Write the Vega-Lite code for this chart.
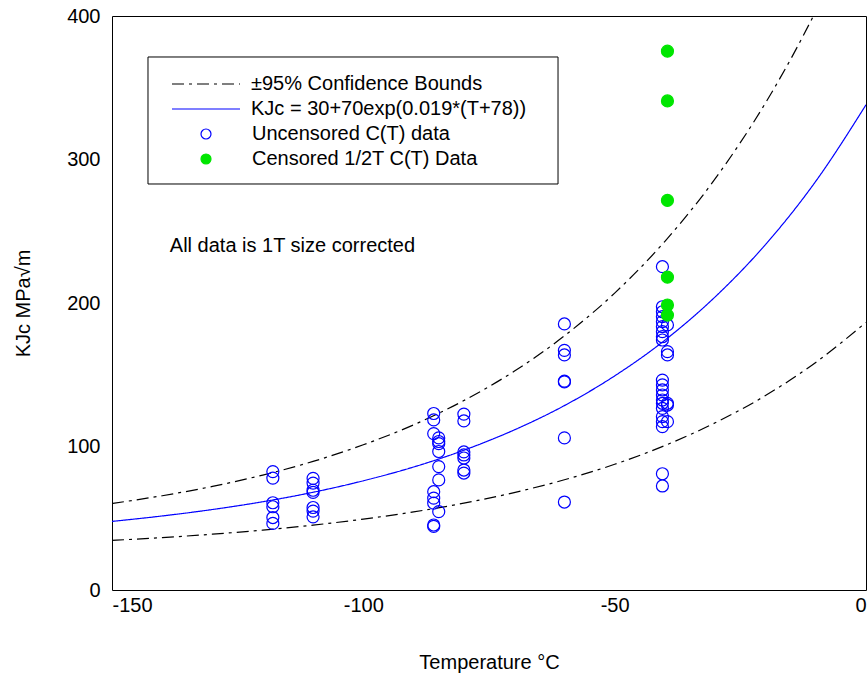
{
  "$schema": "https://vega.github.io/schema/vega-lite/v6.json",
  "width": 754,
  "height": 574,
  "autosize": {"type": "none"},
  "padding": {"left": 112, "top": 16, "right": 1, "bottom": 86},
  "background": "white",
  "config": {
    "font": "Liberation Sans",
    "view": {"stroke": "black", "strokeWidth": 1},
    "axis": {
      "labelFont": "Liberation Sans",
      "labelFontSize": 20,
      "labelColor": "black",
      "titleFont": "Liberation Sans",
      "titleFontSize": 20,
      "titleFontWeight": "normal",
      "titleColor": "black",
      "domain": false,
      "grid": false,
      "ticks": false
    }
  },
  "datasets": {
    "bounds": [
      {"T": -150, "K": 60.3, "curve": "upper", "series": "±95% Confidence Bounds"},
      {"T": -140, "K": 65.7, "curve": "upper", "series": "±95% Confidence Bounds"},
      {"T": -130, "K": 72.2, "curve": "upper", "series": "±95% Confidence Bounds"},
      {"T": -120, "K": 80.1, "curve": "upper", "series": "±95% Confidence Bounds"},
      {"T": -110, "K": 89.6, "curve": "upper", "series": "±95% Confidence Bounds"},
      {"T": -100, "K": 101.2, "curve": "upper", "series": "±95% Confidence Bounds"},
      {"T": -90, "K": 115.1, "curve": "upper", "series": "±95% Confidence Bounds"},
      {"T": -80, "K": 132.0, "curve": "upper", "series": "±95% Confidence Bounds"},
      {"T": -70, "K": 152.4, "curve": "upper", "series": "±95% Confidence Bounds"},
      {"T": -60, "K": 177.1, "curve": "upper", "series": "±95% Confidence Bounds"},
      {"T": -50, "K": 206.9, "curve": "upper", "series": "±95% Confidence Bounds"},
      {"T": -40, "K": 243.0, "curve": "upper", "series": "±95% Confidence Bounds"},
      {"T": -30, "K": 286.6, "curve": "upper", "series": "±95% Confidence Bounds"},
      {"T": -20, "K": 339.4, "curve": "upper", "series": "±95% Confidence Bounds"},
      {"T": -15, "K": 369.8, "curve": "upper", "series": "±95% Confidence Bounds"},
      {"T": -10, "K": 403.2, "curve": "upper", "series": "±95% Confidence Bounds"},
      {"T": -150, "K": 34.6, "curve": "lower", "series": "±95% Confidence Bounds"},
      {"T": -140, "K": 36.5, "curve": "lower", "series": "±95% Confidence Bounds"},
      {"T": -130, "K": 38.9, "curve": "lower", "series": "±95% Confidence Bounds"},
      {"T": -120, "K": 41.7, "curve": "lower", "series": "±95% Confidence Bounds"},
      {"T": -110, "K": 45.2, "curve": "lower", "series": "±95% Confidence Bounds"},
      {"T": -100, "K": 49.4, "curve": "lower", "series": "±95% Confidence Bounds"},
      {"T": -90, "K": 54.4, "curve": "lower", "series": "±95% Confidence Bounds"},
      {"T": -80, "K": 60.5, "curve": "lower", "series": "±95% Confidence Bounds"},
      {"T": -70, "K": 67.9, "curve": "lower", "series": "±95% Confidence Bounds"},
      {"T": -60, "K": 76.8, "curve": "lower", "series": "±95% Confidence Bounds"},
      {"T": -50, "K": 87.6, "curve": "lower", "series": "±95% Confidence Bounds"},
      {"T": -40, "K": 100.7, "curve": "lower", "series": "±95% Confidence Bounds"},
      {"T": -30, "K": 116.5, "curve": "lower", "series": "±95% Confidence Bounds"},
      {"T": -20, "K": 135.5, "curve": "lower", "series": "±95% Confidence Bounds"},
      {"T": -10, "K": 158.6, "curve": "lower", "series": "±95% Confidence Bounds"},
      {"T": 0, "K": 186.5, "curve": "lower", "series": "±95% Confidence Bounds"}
    ],
    "median": [
      {"T": -150, "K": 47.8, "series": "KJc = 30+70exp(0.019*(T+78))"},
      {"T": -140, "K": 51.6, "series": "KJc = 30+70exp(0.019*(T+78))"},
      {"T": -130, "K": 56.1, "series": "KJc = 30+70exp(0.019*(T+78))"},
      {"T": -120, "K": 61.5, "series": "KJc = 30+70exp(0.019*(T+78))"},
      {"T": -110, "K": 68.1, "series": "KJc = 30+70exp(0.019*(T+78))"},
      {"T": -100, "K": 76.1, "series": "KJc = 30+70exp(0.019*(T+78))"},
      {"T": -90, "K": 85.7, "series": "KJc = 30+70exp(0.019*(T+78))"},
      {"T": -80, "K": 97.4, "series": "KJc = 30+70exp(0.019*(T+78))"},
      {"T": -70, "K": 111.5, "series": "KJc = 30+70exp(0.019*(T+78))"},
      {"T": -60, "K": 128.5, "series": "KJc = 30+70exp(0.019*(T+78))"},
      {"T": -50, "K": 149.2, "series": "KJc = 30+70exp(0.019*(T+78))"},
      {"T": -40, "K": 174.1, "series": "KJc = 30+70exp(0.019*(T+78))"},
      {"T": -30, "K": 204.3, "series": "KJc = 30+70exp(0.019*(T+78))"},
      {"T": -20, "K": 240.7, "series": "KJc = 30+70exp(0.019*(T+78))"},
      {"T": -10, "K": 284.8, "series": "KJc = 30+70exp(0.019*(T+78))"},
      {"T": 0, "K": 338.1, "series": "KJc = 30+70exp(0.019*(T+78))"}
    ],
    "points": [
      {"T": -118, "K": 82.5, "series": "Uncensored C(T) data"},
      {"T": -118, "K": 78, "series": "Uncensored C(T) data"},
      {"T": -118, "K": 60.8, "series": "Uncensored C(T) data"},
      {"T": -118, "K": 58, "series": "Uncensored C(T) data"},
      {"T": -118, "K": 50.5, "series": "Uncensored C(T) data"},
      {"T": -118, "K": 46.4, "series": "Uncensored C(T) data"},
      {"T": -110, "K": 77.8, "series": "Uncensored C(T) data"},
      {"T": -110, "K": 74.5, "series": "Uncensored C(T) data"},
      {"T": -110, "K": 69.5, "series": "Uncensored C(T) data"},
      {"T": -110, "K": 68, "series": "Uncensored C(T) data"},
      {"T": -110, "K": 57.5, "series": "Uncensored C(T) data"},
      {"T": -110, "K": 55, "series": "Uncensored C(T) data"},
      {"T": -110, "K": 51, "series": "Uncensored C(T) data"},
      {"T": -86, "K": 123, "series": "Uncensored C(T) data"},
      {"T": -86, "K": 118.5, "series": "Uncensored C(T) data"},
      {"T": -86, "K": 109, "series": "Uncensored C(T) data"},
      {"T": -86, "K": 68.5, "series": "Uncensored C(T) data"},
      {"T": -86, "K": 64, "series": "Uncensored C(T) data"},
      {"T": -86, "K": 60.5, "series": "Uncensored C(T) data"},
      {"T": -86, "K": 45.3, "series": "Uncensored C(T) data"},
      {"T": -86, "K": 44.3, "series": "Uncensored C(T) data"},
      {"T": -85, "K": 106, "series": "Uncensored C(T) data"},
      {"T": -85, "K": 103.5, "series": "Uncensored C(T) data"},
      {"T": -85, "K": 102, "series": "Uncensored C(T) data"},
      {"T": -85, "K": 96.5, "series": "Uncensored C(T) data"},
      {"T": -85, "K": 86, "series": "Uncensored C(T) data"},
      {"T": -85, "K": 76.7, "series": "Uncensored C(T) data"},
      {"T": -85, "K": 54.6, "series": "Uncensored C(T) data"},
      {"T": -80, "K": 122.6, "series": "Uncensored C(T) data"},
      {"T": -80, "K": 117.8, "series": "Uncensored C(T) data"},
      {"T": -80, "K": 96.2, "series": "Uncensored C(T) data"},
      {"T": -80, "K": 94.1, "series": "Uncensored C(T) data"},
      {"T": -80, "K": 92, "series": "Uncensored C(T) data"},
      {"T": -80, "K": 83.6, "series": "Uncensored C(T) data"},
      {"T": -80, "K": 81.5, "series": "Uncensored C(T) data"},
      {"T": -60, "K": 185.4, "series": "Uncensored C(T) data"},
      {"T": -60, "K": 167, "series": "Uncensored C(T) data"},
      {"T": -60, "K": 163.8, "series": "Uncensored C(T) data"},
      {"T": -60, "K": 145, "series": "Uncensored C(T) data"},
      {"T": -60, "K": 145.5, "series": "Uncensored C(T) data"},
      {"T": -60, "K": 106, "series": "Uncensored C(T) data"},
      {"T": -60, "K": 61.3, "series": "Uncensored C(T) data"},
      {"T": -40.5, "K": 225.3, "series": "Uncensored C(T) data"},
      {"T": -40.5, "K": 197.4, "series": "Uncensored C(T) data"},
      {"T": -40.5, "K": 193.9, "series": "Uncensored C(T) data"},
      {"T": -40.5, "K": 190.5, "series": "Uncensored C(T) data"},
      {"T": -40.5, "K": 187, "series": "Uncensored C(T) data"},
      {"T": -40.5, "K": 183.5, "series": "Uncensored C(T) data"},
      {"T": -40.5, "K": 180, "series": "Uncensored C(T) data"},
      {"T": -40.5, "K": 176.5, "series": "Uncensored C(T) data"},
      {"T": -40.5, "K": 174.2, "series": "Uncensored C(T) data"},
      {"T": -40.5, "K": 146.3, "series": "Uncensored C(T) data"},
      {"T": -40.5, "K": 142.9, "series": "Uncensored C(T) data"},
      {"T": -40.5, "K": 139.4, "series": "Uncensored C(T) data"},
      {"T": -40.5, "K": 135.9, "series": "Uncensored C(T) data"},
      {"T": -40.5, "K": 132.4, "series": "Uncensored C(T) data"},
      {"T": -40.5, "K": 130.1, "series": "Uncensored C(T) data"},
      {"T": -40.5, "K": 126.6, "series": "Uncensored C(T) data"},
      {"T": -40.5, "K": 120.8, "series": "Uncensored C(T) data"},
      {"T": -40.5, "K": 117.3, "series": "Uncensored C(T) data"},
      {"T": -40.5, "K": 113.8, "series": "Uncensored C(T) data"},
      {"T": -40.5, "K": 81, "series": "Uncensored C(T) data"},
      {"T": -40.5, "K": 72.5, "series": "Uncensored C(T) data"},
      {"T": -39.5, "K": 184.7, "series": "Uncensored C(T) data"},
      {"T": -39.5, "K": 166.1, "series": "Uncensored C(T) data"},
      {"T": -39.5, "K": 163.8, "series": "Uncensored C(T) data"},
      {"T": -39.5, "K": 130.1, "series": "Uncensored C(T) data"},
      {"T": -39.5, "K": 128.9, "series": "Uncensored C(T) data"},
      {"T": -39.5, "K": 117.3, "series": "Uncensored C(T) data"},
      {"T": -39.5, "K": 375.5, "series": "Censored 1/2T C(T) Data"},
      {"T": -39.5, "K": 340.8, "series": "Censored 1/2T C(T) Data"},
      {"T": -39.5, "K": 271.5, "series": "Censored 1/2T C(T) Data"},
      {"T": -39.5, "K": 218, "series": "Censored 1/2T C(T) Data"},
      {"T": -39.5, "K": 198.6, "series": "Censored 1/2T C(T) Data"},
      {"T": -39.5, "K": 191.6, "series": "Censored 1/2T C(T) Data"}
    ],
    "note": [
      {"note": "All data is 1T size corrected"}
    ]
  },
  "layer": [
    {
      "data": {"name": "note"},
      "mark": {"type": "rect", "fill": "white", "stroke": "black", "strokeWidth": 1},
      "encoding": {
        "x": {"datum": -142.84, "type": "quantitative"},
        "x2": {"datum": -61.27},
        "y": {"datum": 371.43, "type": "quantitative"},
        "y2": {"datum": 282.93}
      }
    },
    {
      "data": {"name": "bounds"},
      "mark": {"type": "line", "clip": true, "strokeWidth": 1.2, "interpolate": "monotone"},
      "encoding": {
        "x": {"field": "T", "type": "quantitative", "scale": {"domain": [-150, 0], "nice": false, "zero": false},
              "axis": {"values": [-150, -100, -50, 0], "labelExpr": "replace(datum.label, '−', '-')", "labelPadding": 5, "title": "Temperature  °C", "titlePadding": 37}},
        "y": {"field": "K", "type": "quantitative", "scale": {"domain": [0, 400], "nice": false},
              "axis": {"values": [0, 100, 200, 300, 400], "labelPadding": 12, "title": "KJc  MPa√m", "titlePadding": 33}},
        "detail": {"field": "curve", "type": "nominal"},
        "color": {
          "field": "series", "type": "nominal",
          "scale": {"domain": ["±95% Confidence Bounds", "KJc = 30+70exp(0.019*(T+78))"], "range": ["#000000", "#0000ff"]},
          "legend": {
            "orient": "none", "legendX": 60, "legendY": 58, "title": null, "padding": 0,
            "symbolType": "stroke", "symbolSize": 4624, "symbolStrokeWidth": 1.2, "symbolOffset": -1,
            "labelOffset": 10, "labelFont": "Liberation Sans", "labelFontSize": 20, "labelColor": "black", "labelLimit": 0,
            "rowPadding": 5, "clipHeight": 20
          }
        },
        "strokeDash": {
          "field": "series", "type": "nominal",
          "scale": {"domain": ["±95% Confidence Bounds", "KJc = 30+70exp(0.019*(T+78))"], "range": [[12, 5, 3, 5], [1, 0]]},
          "legend": {
            "orient": "none", "legendX": 60, "legendY": 58, "title": null, "padding": 0,
            "symbolType": "stroke", "symbolSize": 4624, "symbolStrokeWidth": 1.2, "symbolOffset": -1,
            "labelOffset": 10, "labelFont": "Liberation Sans", "labelFontSize": 20, "labelColor": "black", "labelLimit": 0,
            "rowPadding": 5, "clipHeight": 20
          }
        }
      }
    },
    {
      "data": {"name": "median"},
      "mark": {"type": "line", "clip": true, "strokeWidth": 1.2, "interpolate": "monotone"},
      "encoding": {
        "x": {"field": "T", "type": "quantitative"},
        "y": {"field": "K", "type": "quantitative"},
        "color": {"field": "series", "type": "nominal"},
        "strokeDash": {"field": "series", "type": "nominal"}
      }
    },
    {
      "data": {"name": "points"},
      "mark": {"type": "point", "shape": "circle", "filled": true, "size": 144, "strokeWidth": 1.2, "opacity": 1},
      "encoding": {
        "x": {"field": "T", "type": "quantitative"},
        "y": {"field": "K", "type": "quantitative"},
        "fill": {
          "field": "series", "type": "nominal",
          "scale": {"domain": ["Uncensored C(T) data", "Censored 1/2T C(T) Data"], "range": ["transparent", "#00e600"]},
          "legend": {
            "orient": "none", "legendX": 60, "legendY": 108, "title": null, "padding": 0,
            "symbolType": "circle", "symbolSize": 100, "symbolStrokeWidth": 1.2, "symbolOffset": 24,
            "labelOffset": 36, "labelFont": "Liberation Sans", "labelFontSize": 20, "labelColor": "black", "labelLimit": 0,
            "rowPadding": 5, "clipHeight": 20
          }
        },
        "stroke": {
          "field": "series", "type": "nominal",
          "scale": {"domain": ["Uncensored C(T) data", "Censored 1/2T C(T) Data"], "range": ["#0000ff", "#00e600"]},
          "legend": {
            "orient": "none", "legendX": 60, "legendY": 108, "title": null, "padding": 0,
            "symbolType": "circle", "symbolSize": 100, "symbolStrokeWidth": 1.2, "symbolOffset": 24,
            "labelOffset": 36, "labelFont": "Liberation Sans", "labelFontSize": 20, "labelColor": "black", "labelLimit": 0,
            "rowPadding": 5, "clipHeight": 20
          }
        }
      }
    },
    {
      "data": {"name": "note"},
      "mark": {"type": "text", "align": "left", "baseline": "middle", "fontSize": 20, "font": "Liberation Sans", "color": "black"},
      "encoding": {
        "x": {"datum": -138.5, "type": "quantitative"},
        "y": {"datum": 240, "type": "quantitative"},
        "text": {"field": "note", "type": "nominal"}
      }
    }
  ]
}
